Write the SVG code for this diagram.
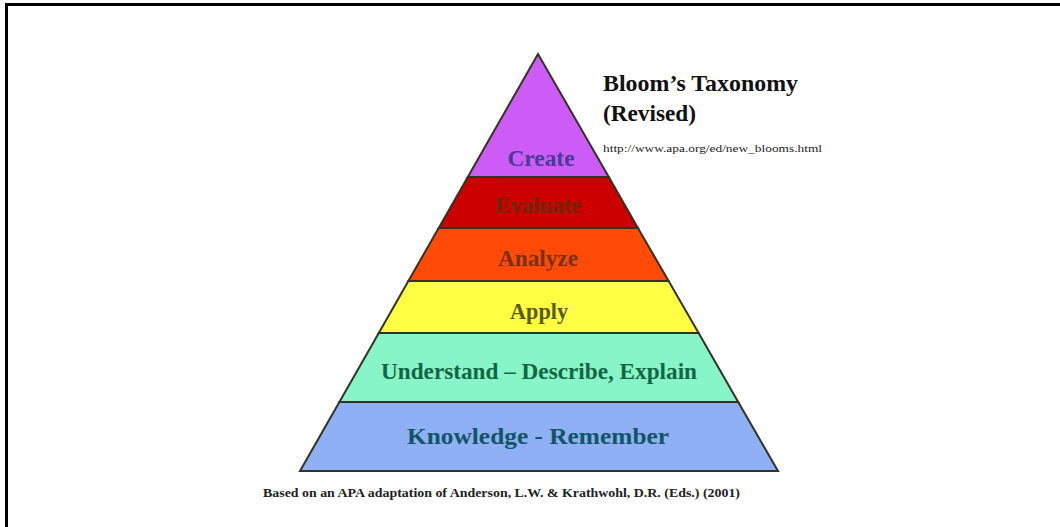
<svg xmlns="http://www.w3.org/2000/svg" width="1060" height="527" viewBox="0 0 1060 527">
<style>
.layer{stroke:#333322;stroke-width:2;stroke-linejoin:miter}
.lbl{font-family:"Liberation Serif","Times New Roman",serif;font-weight:bold;text-anchor:middle}
.note{font-family:"Liberation Serif","Times New Roman",serif}
</style>
<rect width="1060" height="527" fill="#ffffff"/>
<path d="M6.5,527 V4.5 H1060" fill="none" stroke="#000" stroke-width="3"/>
<g id="create">
<polygon class="layer" points="538,54 608.8,177 467.8,177" fill="#cc5cf5"/>
<text class="lbl" x="541" y="166" font-size="23" fill="#4a3a9a" textLength="67" lengthAdjust="spacingAndGlyphs">Create</text>
</g>
<g id="evaluate">
<polygon class="layer" points="467.8,177 608.8,177 637.9,228 438.7,228" fill="#cc0000"/>
<text class="lbl" x="538" y="213" font-size="23" fill="#6a2a08" textLength="86" lengthAdjust="spacingAndGlyphs">Evaluate</text>
</g>
<g id="analyze">
<polygon class="layer" points="438.7,228 637.9,228 668.6,281 408.4,281" fill="#ff4a08"/>
<text class="lbl" x="538" y="266" font-size="23" fill="#7a3010" textLength="80" lengthAdjust="spacingAndGlyphs">Analyze</text>
</g>
<g id="apply">
<polygon class="layer" points="408.4,281 668.6,281 698.6,333 378.8,333" fill="#ffff44"/>
<text class="lbl" x="539" y="319" font-size="23" fill="#5a5a00" textLength="58" lengthAdjust="spacingAndGlyphs">Apply</text>
</g>
<g id="understand">
<polygon class="layer" points="378.8,333 698.6,333 738.2,402 339.4,402" fill="#88f5c8"/>
<text class="lbl" x="539" y="379" font-size="23" fill="#116644" textLength="316" lengthAdjust="spacingAndGlyphs">Understand – Describe, Explain</text>
</g>
<g id="knowledge">
<polygon class="layer" points="339.4,402 738.2,402 778,471 300,471" fill="#8fb0f5"/>
<text class="lbl" x="538" y="444" font-size="24" fill="#115566" textLength="262" lengthAdjust="spacingAndGlyphs">Knowledge - Remember</text>
</g>
<g id="title">
<text class="note" x="603" y="91" font-size="23" font-weight="bold" fill="#111" textLength="195" lengthAdjust="spacingAndGlyphs">Bloom’s Taxonomy</text>
<text class="note" x="603" y="121" font-size="23" font-weight="bold" fill="#111" textLength="93" lengthAdjust="spacingAndGlyphs">(Revised)</text>
<text class="note" x="603" y="152" font-size="10" fill="#222" textLength="219" lengthAdjust="spacingAndGlyphs">http://www.apa.org/ed/new_blooms.html</text>
</g>
<g id="footer">
<text class="note" x="263" y="497" font-size="13.5" font-weight="bold" fill="#222" textLength="477" lengthAdjust="spacingAndGlyphs">Based on an APA adaptation of Anderson, L.W. &amp; Krathwohl, D.R. (Eds.) (2001)</text>
</g>
<g id="connectors"/>
</svg>
